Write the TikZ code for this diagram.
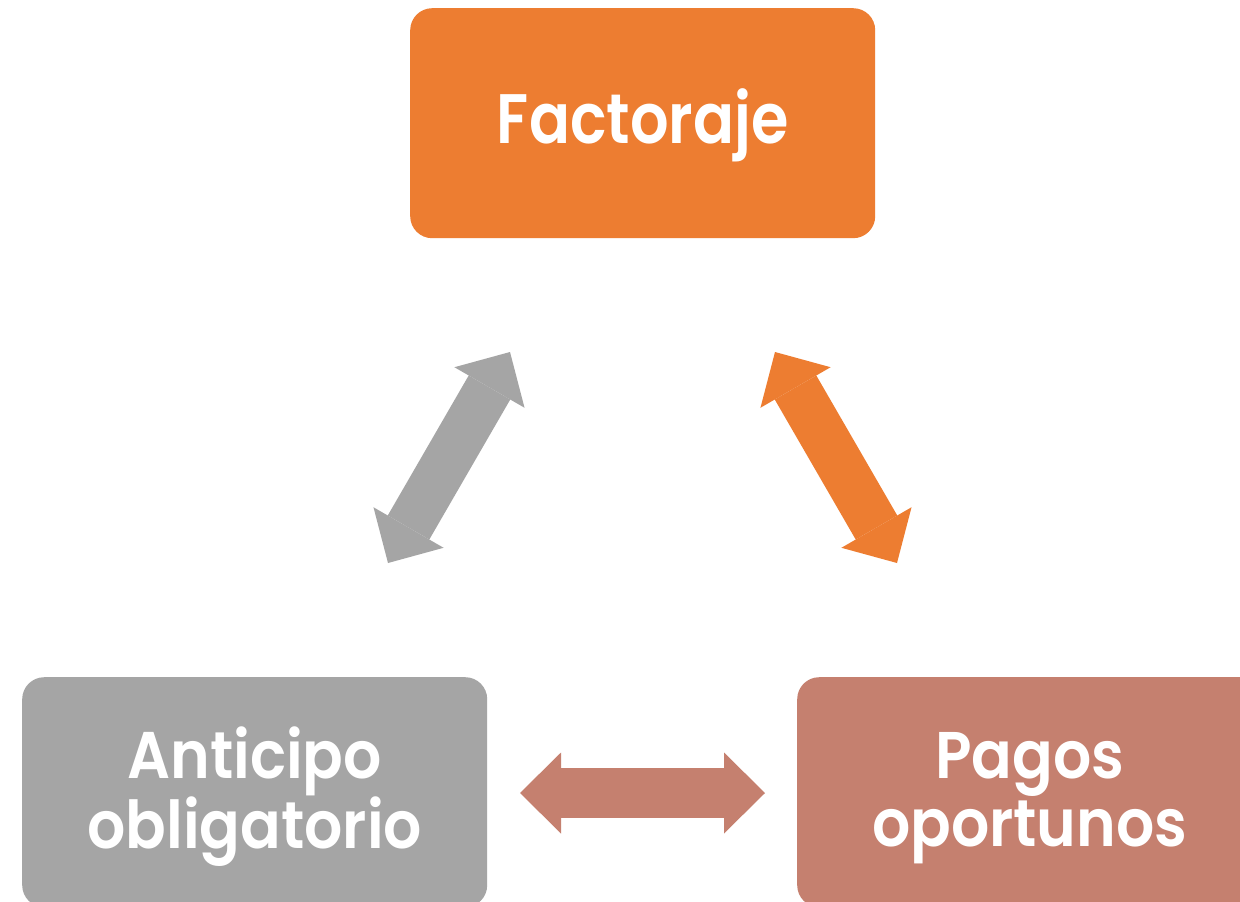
\documentclass[tikz,border=0pt]{standalone}
\usepackage{fontspec}
\setmainfont{Poppins SemiBold}[FakeStretch=0.91]
\newfontfamily\popnarrow{Poppins SemiBold}[FakeStretch=0.865]
\usetikzlibrary{arrows.meta}
\definecolor{corange}{HTML}{ED7D31}
\definecolor{cgray}{HTML}{A5A5A5}
\definecolor{crose}{HTML}{C5806F}
\newcommand{\lowertext}[2]{\raisebox{-#1}[\height][\depth]{\begin{tabular}{@{}c@{}}#2\end{tabular}}}
\tikzset{
  box/.style={rounded corners=22pt, minimum width=465pt, minimum height=230pt, inner sep=0pt,
    text=white, font=\fontsize{66}{71}\selectfont, align=center, anchor=north west},
  dblarrow/.style={line width=48pt,
    {Triangle[length=41pt,width=81pt,line width=0pt]}-{Triangle[length=41pt,width=81pt,line width=0pt]}},
}
\begin{document}
\begin{tikzpicture}[x=1pt,y=-1pt]
\useasboundingbox (0,0) rectangle (1240,902);
\fill[white] (0,0) rectangle (1240,902);
\clip (0,0) rectangle (1240,902);
\node[box, fill=corange, font=\popnarrow\fontsize{70}{75}\selectfont] (fact) at (410,8) {\lowertext{4pt}{Factoraje}};
\node[box, fill=cgray] (anti) at (22,677) {\lowertext{6pt}{Anticipo\\[-3pt]obligatorio}};
\node[box, fill=crose] (pago) at (797,677) {\lowertext{6pt}{Pagos\\[-3pt]oportunos}};
\coordinate (g1) at (388,563);
\coordinate (g2) at (510,352);
\coordinate (o1) at (775,352);
\coordinate (o2) at (897,563);
\coordinate (h1) at (520,793);
\coordinate (h2) at (765,793);
\draw[dblarrow, cgray] (g1) -- (g2);
\draw[dblarrow, corange] (o1) -- (o2);
\draw[dblarrow, crose, line width=50pt] (h1) -- (h2);
\end{tikzpicture}
\end{document}
